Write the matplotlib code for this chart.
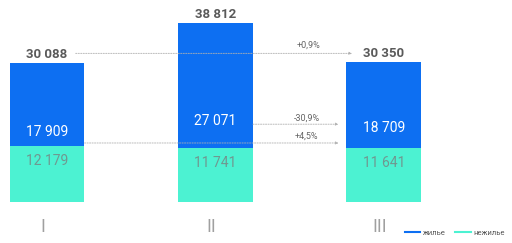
import matplotlib
matplotlib.use("Agg")
import matplotlib.pyplot as plt
from matplotlib.transforms import offset_copy
from matplotlib.lines import Line2D

categories = ["I", "II", "III"]
living = [17909, 27071, 18709]
nonliving = [12179, 11741, 11641]
totals = [30088, 38812, 30350]
changes = ["+0,9%", "-30,9%", "+4,5%"]
legend_labels = ["жилье", "нежилье"]

BLUE = "#0d6ff2"
TEAL = "#4cf2d2"
plt.rcParams['font.family'] = ['Roboto', 'DejaVu Sans']

fig = plt.figure(figsize=(5.12, 2.43), dpi=100)
ax = fig.add_axes([0, 41 / 243, 1, 202 / 243])
scale = 217.0
ax.set_ylim(0, 202 * scale)
ax.set_xlim(-0.279, 2.76)
ax.axis("off")

x = list(range(len(categories)))
w = 0.445
ax.bar(x, nonliving, width=w, color=TEAL, linewidth=0)
ax.bar(x, living, width=w, bottom=nonliving, color=BLUE, linewidth=0)

def px(dx, dy):
    return offset_copy(ax.transData, fig=fig, x=dx, y=dy, units='dots')

living_label_offsets = [14, 27, 20]
for i in x:
    ax.text(i, totals[i], f"{totals[i]:,}".replace(",", " "), transform=px(0, 2),
            ha="center", va="bottom", fontsize=9.5, fontweight="bold", color="#5a5a5a")
    ax.text(i, nonliving[i], f"{living[i]:,}".replace(",", " "), transform=px(0, living_label_offsets[i]),
            ha="center", va="center", fontsize=10, color="white")
    ax.text(i, nonliving[i], f"{nonliving[i]:,}".replace(",", " "), transform=px(0, -15),
            ha="center", va="center", fontsize=10, color="#6f9890")
    ax.text(i, 0, categories[i], transform=px(-4, -25), ha="center", va="center",
            fontsize=13, color="#a0a0a0", fontweight="normal")

arrow_kw = dict(arrowstyle="-|>", color="#b0b0b0", lw=0.6, linestyle=(0, (1.5, 1.5)),
                mutation_scale=4, shrinkA=0, shrinkB=0)
# top arrow: total I -> total III
y1 = totals[0]
ax.annotate("", xy=(2 - 0.19, y1), xytext=(0 + 0.17, y1),
            xycoords=px(0, 10), textcoords=px(0, 10), arrowprops=arrow_kw)
ax.text(1.55, y1, changes[0], transform=px(0, 14), ha="center", va="bottom",
        fontsize=6.5, color="#666666")
# living arrow
y2 = nonliving[1] + living[1] * 0.19
ax.annotate("", xy=(2 - 0.27, y2), xytext=(1 + w / 2, y2), arrowprops=arrow_kw)
ax.text(1.54, y2, changes[1], transform=px(0, 2), ha="center", va="bottom",
        fontsize=6.5, color="#666666")
# non-living arrow
y3 = nonliving[0] + living[0] * 0.035
ax.annotate("", xy=(2 - 0.27, y3), xytext=(0 + w / 2, y3), arrowprops=arrow_kw)
ax.text(1.54, y3, changes[2], transform=px(0, 2), ha="center", va="bottom",
        fontsize=6.5, color="#666666")

handles = [Line2D([], [], color=BLUE, lw=1.5), Line2D([], [], color=TEAL, lw=1.5)]
fig.legend(handles, legend_labels, loc="lower right", bbox_to_anchor=(1.0, 0.0), ncol=2,
           frameon=False, fontsize=5.5, handlelength=2.0, handletextpad=0.4,
           columnspacing=1.2, labelcolor="#555555")

fig.savefig("out.png", dpi=100)
